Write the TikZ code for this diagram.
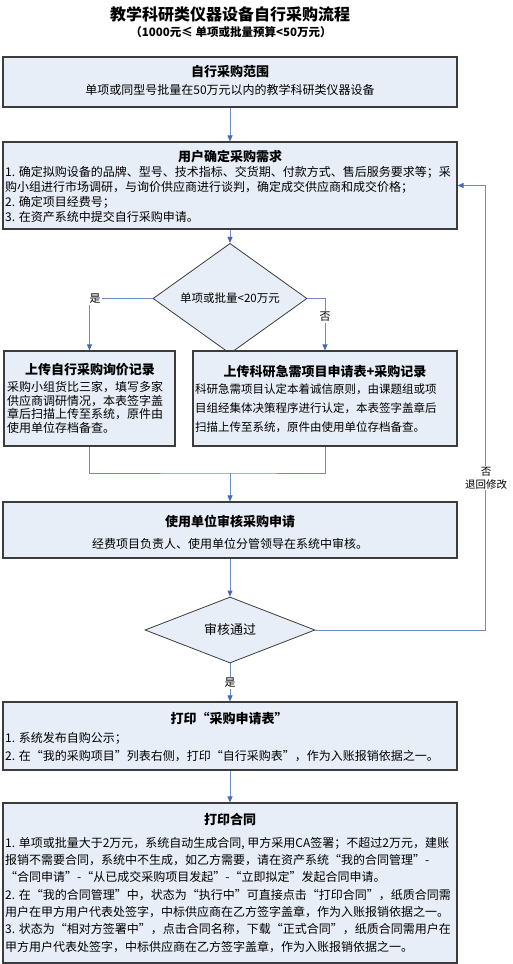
\documentclass[tikz,border=0pt]{standalone}
\usepackage{fontspec}
\setmainfont{Noto Sans CJK SC}
\usetikzlibrary{shapes.geometric,arrows.meta}
\definecolor{boxfill}{RGB}{232,238,247}
\definecolor{edgecol}{RGB}{60,60,60}
\definecolor{conncol}{RGB}{110,140,200}
\definecolor{tipcol}{RGB}{70,105,175}
\begin{document}
\begin{tikzpicture}[x=1pt,y=-1pt,
 box/.style={draw=edgecol,fill=boxfill,line width=1.1pt,inner sep=0pt,rectangle},
 dia/.style={draw=edgecol,fill=boxfill,line width=0.8pt,diamond,inner sep=0pt},
 conn/.style={draw=conncol,line width=0.9pt},
 arr/.style={conn,-{Triangle[length=6pt,width=5pt,color=tipcol]}},
 hdr/.style={font=\fontsize{13}{15}\selectfont\bfseries,inner sep=0pt},
 body/.style={font=\fontsize{12}{15}\selectfont,inner sep=0pt,align=left},
 lab/.style={font=\fontsize{11}{13}\selectfont,fill=white,inner sep=1pt}]
\useasboundingbox (0,0) rectangle (512,964);
% title
\node[font=\fontsize{16}{18}\selectfont\bfseries,inner sep=0pt] (title) at (230,14) {教学科研类仪器设备自行采购流程};
\node[font=\fontsize{11.5}{13}\selectfont\bfseries,inner sep=0pt] (subtitle) at (231,32) {（1000元≤ 单项或批量预算<50万元）};
% boxes
\node[box,minimum width=454,minimum height=50] (b1) at (230,82) {};
\node[box,minimum width=454,minimum height=87] (b2) at (230,185.5) {};
\node[dia,minimum width=154,minimum height=67,font=\fontsize{11.5}{13}\selectfont] (d1) at (230,298.5) {单项或批量<20万元};
\node[box,minimum width=171,minimum height=95] (b3) at (89.5,398.5) {};
\node[box,minimum width=264,minimum height=95] (b4) at (325,398.5) {};
\node[box,minimum width=454,minimum height=56] (b5) at (230,530) {};
\node[dia,minimum width=170,minimum height=66,font=\fontsize{13}{15}\selectfont] (d2) at (230,630) {审核通过};
\node[box,minimum width=454,minimum height=68] (b6) at (230,736) {};
\node[box,minimum width=454,minimum height=160] (b7) at (230,883) {};
% texts
\node[hdr] (h1) at (230,72) {自行采购范围};
\node[body] (t1) at (230,90) {单项或同型号批量在50万元以内的教学科研类仪器设备};
\node[hdr] (h2) at (230,157) {用户确定采购需求};
\node[body,anchor=north west] (t2) at (5,166) {1. 确定拟购设备的品牌、型号、技术指标、交货期、付款方式、售后服务要求等；采\\购小组进行市场调研，与询价供应商进行谈判，确定成交供应商和成交价格；\\2. 确定项目经费号；\\3. 在资产系统中提交自行采购申请。};
\node[hdr] (h3) at (90,370) {上传自行采购询价记录};
\node[body,anchor=north west,font=\fontsize{12}{13.7}\selectfont] (t3) at (7,381) {采购小组货比三家，填写多家\\供应商调研情况，本表签字盖\\章后扫描上传至系统，原件由\\使用单位存档备查。};
\node[hdr] (h4) at (325,372) {上传科研急需项目申请表+采购记录};
\node[body,anchor=north west,font=\fontsize{11.5}{19}\selectfont] (t4) at (195,384) {科研急需项目认定本着诚信原则，由课题组或项\\目组经集体决策程序进行认定，本表签字盖章后\\扫描上传至系统，原件由使用单位存档备查。};
\node[hdr] (h5) at (230,521) {使用单位审核采购申请};
\node[body] (t5) at (230,544) {经费项目负责人、使用单位分管领导在系统中审核。};
\node[hdr] (h6) at (229,718) {打印“采购申请表”};
\node[body,anchor=north west,font=\fontsize{12}{18}\selectfont] (t6) at (5,732) {1. 系统发布自购公示；\\2. 在“我的采购项目”列表右侧，打印“自行采购表”，作为入账报销依据之一。};
\node[hdr] (h7) at (230,820) {打印合同};
\node[body,anchor=north west,font=\fontsize{12}{17.3}\selectfont] (t7) at (5,837) {1. 单项或批量大于2万元，系统自动生成合同, 甲方采用CA签署；不超过2万元，建账\\报销不需要合同，系统中不生成，如乙方需要，请在资产系统“我的合同管理”-\\“合同申请”-“从已成交采购项目发起”-“立即拟定”发起合同申请。\\2. 在“我的合同管理”中，状态为“执行中”可直接点击“打印合同”，纸质合同需\\用户在甲方用户代表处签字，中标供应商在乙方签字盖章，作为入账报销依据之一。\\3. 状态为“相对方签署中”，点击合同名称，下载“正式合同”，纸质合同需用户在\\甲方用户代表处签字，中标供应商在乙方签字盖章，作为入账报销依据之一。};
% connectors
\draw[arr] (b1.south) -- (b2.north);
\draw[arr] (b2.south) -- (d1.north);
\draw[arr] (d1.west) -| (b3.north);
\draw[arr] (d1.east) -| (b4.north);
\coordinate (j) at (230,473);
\draw[conn] (b3.south) |- (j) -| (b4.south);
\draw[arr] (j) -- (b5.north);
\draw[arr] (b5.south) -- (d2.north);
\coordinate (fb) at (485,185.5);
\draw[arr] (d2.east) -| (fb) -- (b2.east);
\draw[arr] (d2.south) -- (b6.north);
\draw[arr] (b6.south) -- (b7.north);
% labels
\node[lab] (l1) at (95,299) {是};
\node[lab] (l2) at (325,317) {否};
\node[lab,align=center,font=\fontsize{10.5}{13}\selectfont] (l3) at (486,478) {否\\退回修改};
\node[lab] (l4) at (230,683) {是};
\end{tikzpicture}
\end{document}
